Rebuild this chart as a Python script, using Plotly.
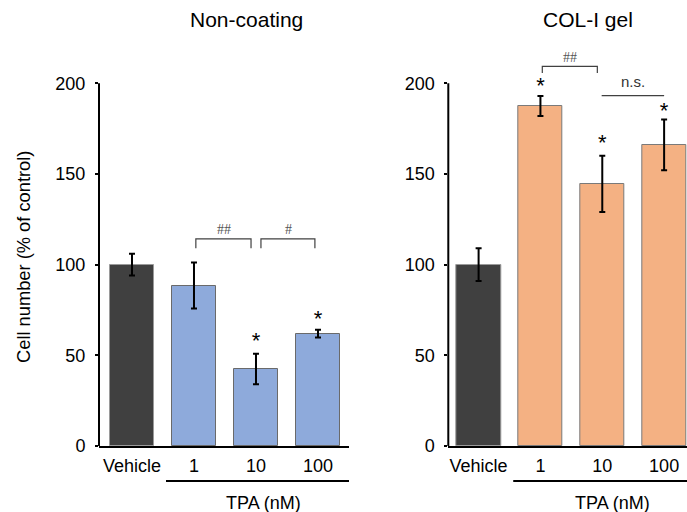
import plotly.graph_objects as go

categories = ["Vehicle", "1", "10", "100"]
noncoat_mean = [100, 88.5, 42.5, 62]
noncoat_err = [6, 12.7, 8.4, 2.1]
col_mean = [100, 187.5, 144.5, 166]
col_err = [9, 5.5, 15.5, 14]

noncoat_star_x = [2, 3]
noncoat_star_y = [57.3, 69.1]
col_star_x = [1, 2, 3]
col_star_y = [197.5, 166.1, 183.8]

yticks = [0, 50, 100, 150, 200]

FONT = "Liberation Sans, Arial, Helvetica, sans-serif"
VEH = "#404040"
BLUE = "#8EAADB"
ORANGE = "#F4B183"

xpos = list(range(len(categories)))

fig = go.Figure()

fig.add_trace(go.Bar(
    x=xpos, y=noncoat_mean, width=0.72,
    marker=dict(color=[VEH, BLUE, BLUE, BLUE],
                line=dict(color=["#9a9a9a", "#6a6a6a", "#6a6a6a", "#6a6a6a"], width=1)),
    error_y=dict(type="data", array=noncoat_err, color="black", thickness=2, width=3),
    xaxis="x", yaxis="y", showlegend=False))

fig.add_trace(go.Bar(
    x=xpos, y=col_mean, width=0.72,
    marker=dict(color=[VEH, ORANGE, ORANGE, ORANGE],
                line=dict(color=["#9a9a9a", "#7a7a7a", "#7a7a7a", "#7a7a7a"], width=1)),
    error_y=dict(type="data", array=col_err, color="black", thickness=2, width=3),
    xaxis="x2", yaxis="y2", showlegend=False))

# asterisks
fig.add_trace(go.Scatter(x=noncoat_star_x, y=noncoat_star_y, mode="text", text=["*"] * len(noncoat_star_x),
                         textfont=dict(family=FONT, size=22, color="black"), cliponaxis=False,
                         xaxis="x", yaxis="y", showlegend=False, textposition="middle center",
                         hoverinfo="skip"))
fig.add_trace(go.Scatter(x=col_star_x, y=col_star_y, mode="text", text=["*"] * len(col_star_x),
                         textfont=dict(family=FONT, size=22, color="black"), cliponaxis=False,
                         xaxis="x2", yaxis="y2", showlegend=False, textposition="middle center",
                         hoverinfo="skip"))

W, H = 687, 512
T_px, B_px = 38.45, 66.3

axis_common = dict(showgrid=False, zeroline=False)
fig.update_layout(
    width=W, height=H,
    margin=dict(l=0, r=0, t=T_px, b=B_px, pad=0),
    paper_bgcolor="white", plot_bgcolor="white",
    font=dict(family=FONT, size=18, color="black"),
    bargap=0,
    xaxis=dict(domain=[99 / 687, 349 / 687], range=[-0.532, 3.5], tickvals=xpos, ticktext=categories,
               showline=True, linecolor="black", linewidth=2, ticks="", anchor="y",
               tickfont=dict(size=18), ticklabelstandoff=2, **axis_common),
    xaxis2=dict(domain=[448.3 / 687, 1.0], range=[-0.49, 3.37], tickvals=xpos, ticktext=categories,
                showline=True, linecolor="black", linewidth=2, ticks="", anchor="y2",
                tickfont=dict(size=18), ticklabelstandoff=2, **axis_common),
    yaxis=dict(domain=[0, 1], range=[0, 225], tickvals=yticks, ticks="outside", ticklen=3,
               tickwidth=1.5, tickcolor="black", showline=False, anchor="x",
               tickfont=dict(size=18), ticklabelstandoff=6, **axis_common),
    yaxis2=dict(domain=[0, 1], range=[0, 225], tickvals=yticks, ticks="outside", ticklen=3,
                tickwidth=1.5, tickcolor="black", showline=False, anchor="x2",
                tickfont=dict(size=18), ticklabelstandoff=6, **axis_common),
)

shapes = []
for xr, yr in [("x domain", "y"), ("x2 domain", "y2")]:
    shapes.append(dict(type="line", xref=xr, yref=yr, x0=0, x1=0, y0=0, y1=200,
                       line=dict(color="black", width=2)))

BR = "#404040"
def bracket(xr, yr, x0, x1, ytop, ybot):
    return dict(type="path", xref=xr, yref=yr,
                path=f"M {x0},{ybot} L {x0},{ytop} L {x1},{ytop} L {x1},{ybot}",
                line=dict(color=BR, width=1.2))

shapes.append(bracket("x", "y", 1.03, 1.92, 114.2, 109))
shapes.append(bracket("x", "y", 2.08, 2.95, 114.2, 109))
shapes.append(bracket("x2", "y2", 1.03, 1.92, 209.4, 205.7))
shapes.append(dict(type="line", xref="x2", yref="y2", x0=1.99, x1=3.0, y0=193.2, y1=193.2,
                   line=dict(color=BR, width=1.2)))

shapes.append(dict(type="line", xref="x domain", yref="paper", x0=0.268, x1=1.0, y0=-0.0859, y1=-0.0859,
                   line=dict(color="black", width=2)))
shapes.append(dict(type="line", xref="x2 domain", yref="paper", x0=0.272, x1=1.0, y0=-0.0859, y1=-0.0859,
                   line=dict(color="black", width=2)))
fig.update_layout(shapes=shapes)

ann = []
ann.append(dict(text="Non-coating", xref="paper", yref="paper", x=246 / 687, y=(445.7 - 20) / 407.25,
                showarrow=False, font=dict(size=21), xanchor="center", yanchor="middle"))
ann.append(dict(text="COL-I gel", xref="paper", yref="paper", x=587.5 / 687, y=(445.7 - 20) / 407.25,
                showarrow=False, font=dict(size=21), xanchor="center", yanchor="middle"))
ann.append(dict(text="Cell number (% of control)", xref="paper", yref="paper", x=24 / 687,
                y=(445.7 - 257) / 407.25, textangle=-90, showarrow=False, font=dict(size=18.3),
                xanchor="center", yanchor="middle"))
ann.append(dict(text="TPA (nM)", xref="x domain", yref="paper", x=0.658, y=-(503 - 445.7) / 407.25,
                showarrow=False, font=dict(size=18), xanchor="center", yanchor="middle"))
ann.append(dict(text="TPA (nM)", xref="x2 domain", yref="paper", x=0.686, y=-(503 - 445.7) / 407.25,
                showarrow=False, font=dict(size=18), xanchor="center", yanchor="middle"))
SIGF = dict(size=14, color="#555555", family="Liberation Serif, Times New Roman, serif")
ann.append(dict(text="##", xref="x", yref="y", x=1.48, y=119.5, showarrow=False, font=SIGF))
ann.append(dict(text="#", xref="x", yref="y", x=2.53, y=119.5, showarrow=False, font=SIGF))
ann.append(dict(text="##", xref="x2", yref="y2", x=1.47, y=214.5, showarrow=False, font=SIGF))
ann.append(dict(text="n.s.", xref="x2", yref="y2", x=2.49, y=201, showarrow=False,
                font=dict(size=15, color="#333333")))
fig.update_layout(annotations=ann)

fig.write_html("out.html", config={"displayModeBar": False},
               post_script="document.body.style.margin='0';document.body.style.overflow='hidden';")
